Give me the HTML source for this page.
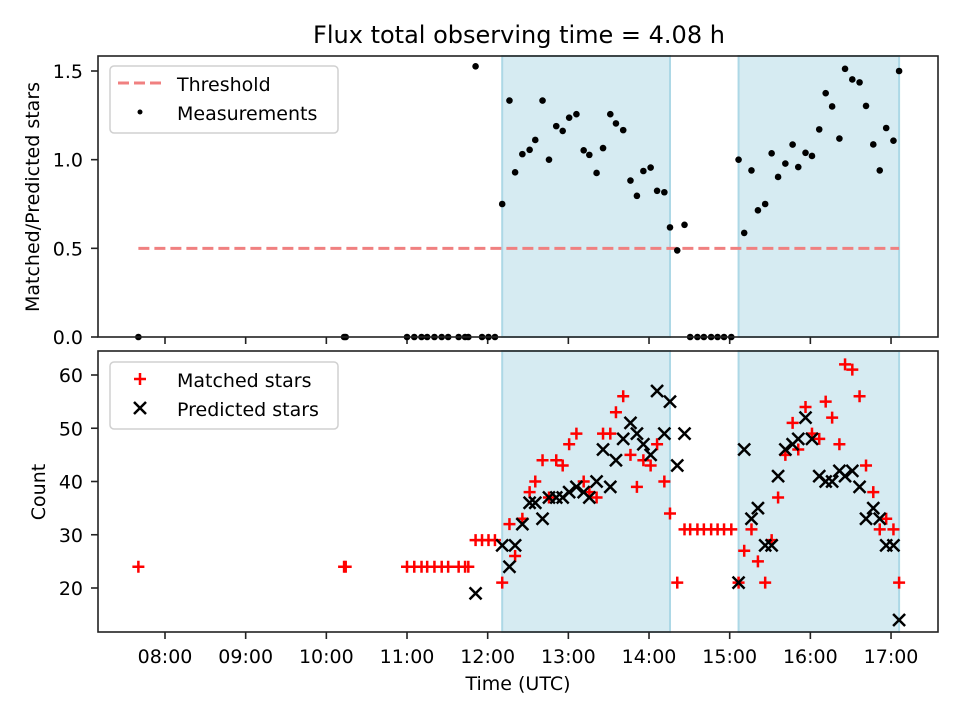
<!DOCTYPE html>
<html><head><meta charset="utf-8"><style>
body{margin:0;background:#fff;}
svg{font-family:"DejaVu Sans","Liberation Sans",sans-serif;}
</style></head><body>
<svg id="chart" width="960" height="720" xmlns="http://www.w3.org/2000/svg">
<rect width="960" height="720" fill="#fff"/>
<text x="519" y="43" font-size="24" text-anchor="middle">Flux total observing time = 4.08 h</text>
<g id="topPanel"></g>
<g id="botPanel"></g>
<text transform="translate(39,197) rotate(-90)" font-size="19" text-anchor="middle">Matched/Predicted stars</text>
<text transform="translate(45,492) rotate(-90)" font-size="19" text-anchor="middle">Count</text>
<text x="518" y="690" font-size="19" text-anchor="middle">Time (UTC)</text>
</svg>
<script>
const times=[7.67,10.22,10.24,11.00,11.09,11.18,11.25,11.34,11.43,11.51,11.64,11.72,11.76,11.85,11.93,12.01,12.09,
12.18,12.27,12.34,12.43,12.52,12.59,12.68,12.76,12.85,12.93,13.01,13.10,13.19,13.26,13.35,13.43,13.52,13.59,13.68,13.77,13.85,13.93,14.02,14.10,14.19,14.26,14.35,14.44,
14.51,14.60,14.68,14.77,14.85,14.93,15.02,
15.11,15.18,15.27,15.35,15.44,15.52,15.60,15.69,15.78,15.85,15.94,16.02,16.11,16.19,16.27,16.36,16.43,16.52,16.61,16.69,16.78,16.86,16.94,17.03,17.10];
const matched=[24,24,24,24,24,24,24,24,24,24,24,24,24,29,29,29,29,
21,32,26,33,38,40,44,37,44,43,47,49,40,38,37,49,49,53,56,45,39,44,43,47,40,34,21,31,
31,31,31,31,31,31,31,
21,27,31,25,21,29,37,45,51,46,54,49,48,55,52,47,62,61,56,43,38,31,33,31,21];
const predicted=[0,0,0,0,0,0,0,0,0,0,0,0,0,19,0,0,0,
28,24,28,32,36,36,33,37,37,37,38,39,38,37,40,46,39,44,48,51,49,47,45,57,49,55,43,49,
0,0,0,0,0,0,0,
21,46,33,35,28,28,41,46,47,48,52,48,41,40,40,42,41,42,39,33,35,33,28,28,14];
const threshold=0.5;
const spans=[[12.18,14.26],[15.11,17.10]];
const xTicks=[8,9,10,11,12,13,14,15,16,17];
const xTickLabels=["08:00","09:00","10:00","11:00","12:00","13:00","14:00","15:00","16:00","17:00"];
const yTicksTop=[0,0.5,1.0,1.5];
const yTickLabelsTop=["0.0","0.5","1.0","1.5"];
const yTicksBot=[20,30,40,50,60];

const NS="http://www.w3.org/2000/svg";
const L=98,R=938;
const X=h=>165+(h-8)*80.67;
const topY=v=>337-v*177.33;
const botY=v=>588-(v-20)*5.325;
function mk(p,tag,a){const e=document.createElementNS(NS,tag);for(const k in a)e.setAttribute(k,a[k]);p.appendChild(e);return e;}
const topG=document.getElementById('topPanel'),botG=document.getElementById('botPanel');

function panel(g,y0,y1,Y,ticks,labels,nm){
  for(const s of spans){const r=mk(g,'rect',{x:X(s[0]),y:y0,width:X(s[1])-X(s[0]),height:y1-y0,fill:'#add8e6','fill-opacity':0.5,stroke:'#add8e6','stroke-width':2});
    }
  ticks.forEach((t,i)=>{const y=Y(t);mk(g,'line',{x1:L-7,x2:L,y1:y,y2:y,stroke:'#222','stroke-width':1.6});
    const tx=mk(g,'text',{x:L-15,y:y+7,'font-size':19,'text-anchor':'end'});tx.textContent=labels?labels[i]:String(t);
    });
  xTicks.forEach((t,i)=>{mk(g,'line',{x1:X(t),x2:X(t),y1:y1,y2:y1+7,stroke:'#222','stroke-width':1.6});});
}
panel(topG,56,337,topY,yTicksTop,yTickLabelsTop,'ratio');
panel(botG,351,632,botY,yTicksBot,null,'count');
xTicks.forEach((t,i)=>{const tx=mk(botG,'text',{x:X(t),y:663,'font-size':19,'text-anchor':'middle'});tx.textContent=xTickLabels[i];
  });

const th=mk(topG,'line',{x1:X(times[0]),x2:X(times[times.length-1]),y1:topY(threshold),y2:topY(threshold),stroke:'#f08080','stroke-width':3,'stroke-dasharray':'11,5'});

times.forEach((t,i)=>{const r=predicted[i]>0?matched[i]/predicted[i]:0;
  const c=mk(topG,'circle',{cx:X(t),cy:topY(r),r:3.3,fill:'#000'});
  });
const cp=mk(botG,'clipPath',{id:'cb'});mk(cp,'rect',{x:L,y:351,width:R-L,height:281});
const mg=mk(botG,'g',{'clip-path':'url(#cb)'});
times.forEach((t,i)=>{const x=X(t),y=botY(matched[i]);
  const p=mk(mg,'path',{d:`M${x-6},${y}H${x+6}M${x},${y-6}V${y+6}`,stroke:'#f00','stroke-width':2.5,fill:'none'});
  });
times.forEach((t,i)=>{if(predicted[i]<=0)return;const x=X(t),y=botY(predicted[i]);
  const p=mk(mg,'path',{d:`M${x-6},${y-6}L${x+6},${y+6}M${x-6},${y+6}L${x+6},${y-6}`,stroke:'#000','stroke-width':2.5,fill:'none'});
  });

[[topG,56,337],[botG,351,632]].forEach(a=>{mk(a[0],'rect',{x:L,y:a[1],width:R-L,height:a[2]-a[1],fill:'none',stroke:'#222','stroke-width':1.6});});

function legend(g,y,items,nm){const b=mk(g,'rect',{x:110,y:y,width:228,height:67,rx:4,fill:'#fff','fill-opacity':0.8,stroke:'#d0d0d0','stroke-width':1.5});
  
  items.forEach((it,i)=>{const cy=y+17+i*29;it.draw(cy);const tx=mk(g,'text',{x:177,y:cy+8,'font-size':19});tx.textContent=it.label;
    });}
legend(topG,66,[{label:'Threshold',draw:cy=>mk(topG,'line',{x1:118,x2:161,y1:cy,y2:cy,stroke:'#f08080','stroke-width':3,'stroke-dasharray':'11,5'})},
  {label:'Measurements',draw:cy=>mk(topG,'circle',{cx:140,cy:cy,r:2.5,fill:'#000'})}],'ratio-legend');
legend(botG,362,[{label:'Matched stars',draw:cy=>mk(botG,'path',{d:`M134,${cy}H146M140,${cy-6}V${cy+6}`,stroke:'#f00','stroke-width':2.5})},
  {label:'Predicted stars',draw:cy=>mk(botG,'path',{d:`M134,${cy-6}L146,${cy+6}M134,${cy+6}L146,${cy-6}`,stroke:'#000','stroke-width':2.5})}],'count-legend');
</script>
</body></html>
